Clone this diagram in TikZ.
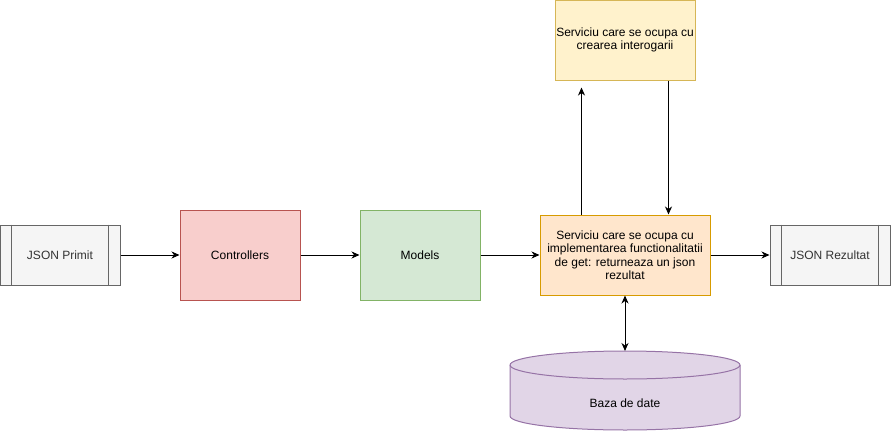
\documentclass[tikz,border=0pt]{standalone}
\usepackage{fontspec}
\setmainfont{Liberation Sans}
\usetikzlibrary{arrows.meta}
\definecolor{grayfill}{HTML}{F5F5F5}
\definecolor{graystroke}{HTML}{666666}
\definecolor{graytext}{HTML}{333333}
\definecolor{redfill}{HTML}{F8CECC}
\definecolor{redstroke}{HTML}{B85450}
\definecolor{greenfill}{HTML}{D5E8D4}
\definecolor{greenstroke}{HTML}{82B366}
\definecolor{orangefill}{HTML}{FFE6CC}
\definecolor{orangestroke}{HTML}{D79B00}
\definecolor{yellowfill}{HTML}{FFF2CC}
\definecolor{yellowstroke}{HTML}{D6B656}
\definecolor{purplefill}{HTML}{E1D5E7}
\definecolor{purplestroke}{HTML}{9673A6}
\begin{document}
\begin{tikzpicture}[x=1pt,y=-1pt,
  box/.style={draw, rectangle, inner sep=0pt, line width=1pt,
    font=\fontsize{12}{13.5}\selectfont, align=center},
  procbox/.style={box, fill=grayfill, draw=graystroke, text=graytext,
    minimum width=120pt, minimum height=60pt},
  arr/.style={line width=1pt, -{Stealth[length=8pt,width=7pt,inset=2.5pt]}},
  arrboth/.style={line width=1pt, {Stealth[length=8pt,width=7pt,inset=2.5pt]}-{Stealth[length=8pt,width=7pt,inset=2.5pt]}}
]
\useasboundingbox (0,0) rectangle (891,431);

% nodes
\node[procbox] (jp) at (60,255) {JSON Primit};
\draw[graystroke, line width=1pt] ([xshift=12pt]jp.north west) -- ([xshift=12pt]jp.south west);
\draw[graystroke, line width=1pt] ([xshift=-12pt]jp.north east) -- ([xshift=-12pt]jp.south east);

\node[box, fill=redfill, draw=redstroke, minimum width=120pt, minimum height=90pt] (ctrl) at (240,255) {Controllers};
\node[box, fill=greenfill, draw=greenstroke, minimum width=120pt, minimum height=90pt] (models) at (420,255) {Models};
\node[box, fill=orangefill, draw=orangestroke, minimum width=170pt, minimum height=80pt] (main) at (625,255)
  {Serviciu care se ocupa cu\\implementarea functionalitatii\\de get: returneaza un json\\rezultat};
\node[box, fill=yellowfill, draw=yellowstroke, minimum width=140pt, minimum height=80pt] (query) at (625,40)
  {Serviciu care se ocupa cu\\crearea interogarii};

\node[procbox] (jr) at (830,255) {JSON Rezultat};
\draw[graystroke, line width=1pt] ([xshift=12pt]jr.north west) -- ([xshift=12pt]jr.south west);
\draw[graystroke, line width=1pt] ([xshift=-12pt]jr.north east) -- ([xshift=-12pt]jr.south east);

% database cylinder
\path[fill=purplefill, draw=purplestroke, line width=1pt]
  (510,365) -- (510,416) arc[start angle=180, end angle=0, x radius=115, y radius=14]
  -- (740,365) arc[start angle=0, end angle=-180, x radius=115, y radius=14] -- cycle;
\draw[purplestroke, line width=1pt] (510,365) arc[start angle=180, end angle=0, x radius=115, y radius=14];
\node[font=\fontsize{12}{13.5}\selectfont, inner sep=0pt] (db) at (625,403) {Baza de date};
\coordinate (dbtop) at (625,351);

% connectors
\draw[arr] (jp) -- (ctrl);
\draw[arr] (ctrl) -- (models);
\draw[arr] (models) -- (main);
\draw[arr] (main) -- (jr);
\draw[arr, shorten >=7pt] ([xshift=42pt]main.north west) -- ([xshift=27pt]query.south west);
\draw[arr] ([xshift=114pt]query.south west) -- ([xshift=129pt]main.north west);
\draw[arrboth] (main) -- (dbtop);
\end{tikzpicture}
\end{document}
